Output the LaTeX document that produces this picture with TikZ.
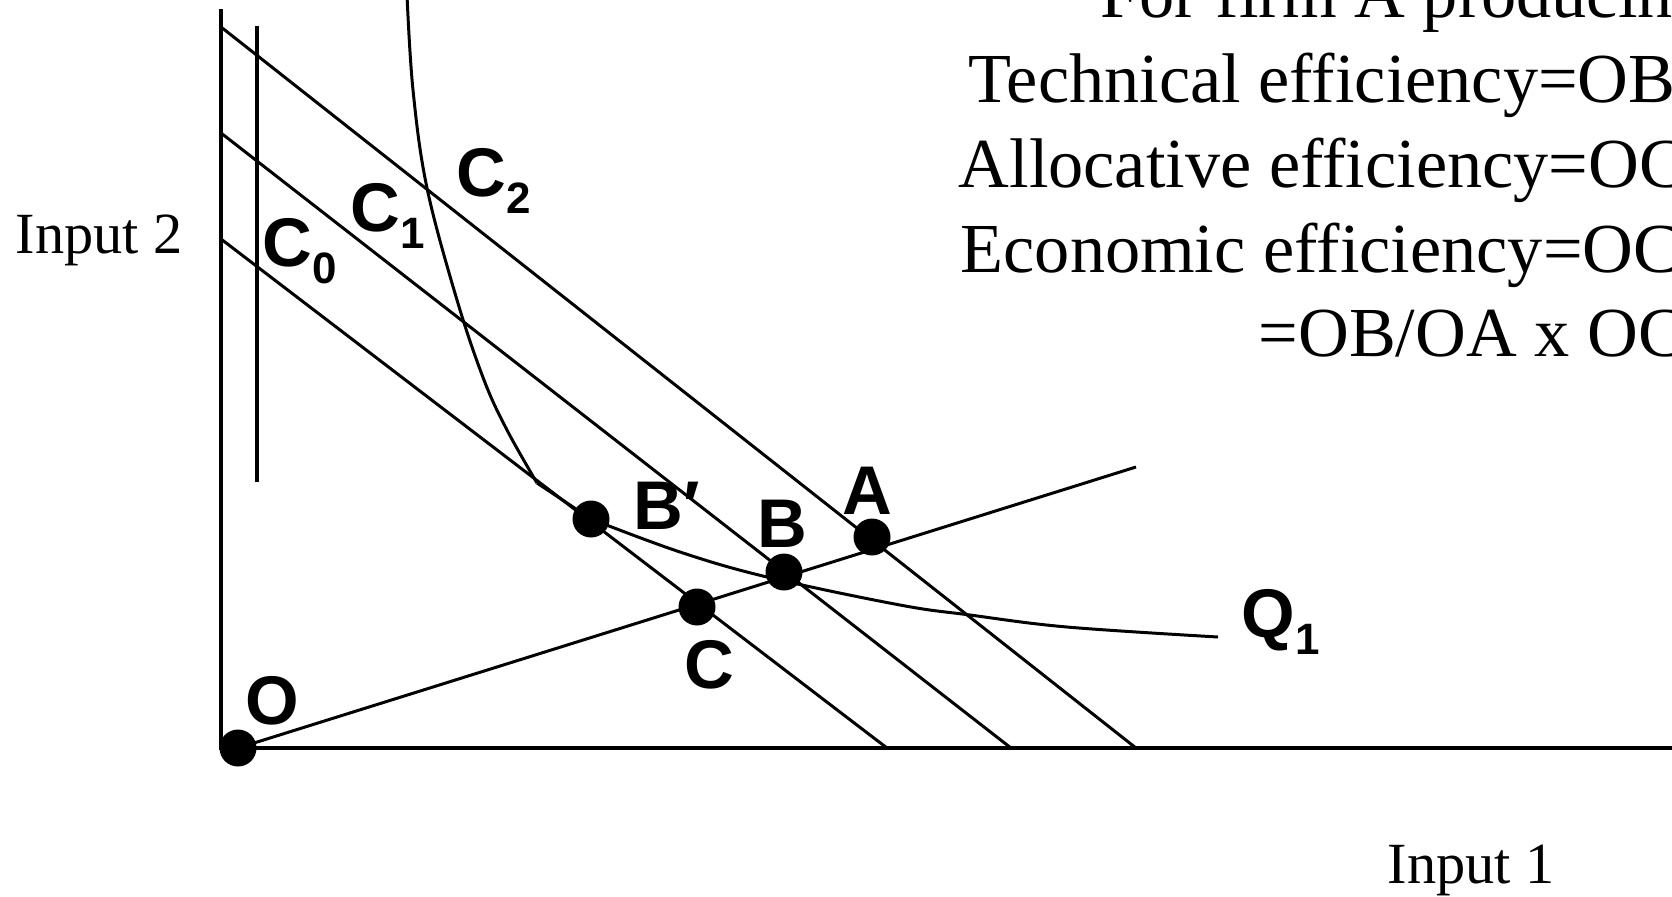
\documentclass[tikz,border=0pt]{standalone}
\usepackage{fontspec}
\setmainfont{Liberation Serif}
\setsansfont{Liberation Sans}
\usetikzlibrary{positioning}
\newcommand{\lowsub}[1]{\raisebox{-4.9pt}{\fontsize{12.5}{12.5}\selectfont #1}}

\begin{document}
\begin{tikzpicture}[
    x=0.1mm, y=-0.1mm,
    axisline/.style={line width=1.15pt},
    budget/.style={line width=0.85pt},
    iso/.style={line width=0.85pt, line join=round},
    dot/.style={circle, fill=black, inner sep=0pt, minimum size=3.7mm},
    lbl/.style={anchor=base west, inner sep=0pt, font=\fontsize{19.6}{20}\selectfont\sffamily\bfseries},
    txt/.style={anchor=base west, inner sep=0pt, font=\fontsize{20}{24}\selectfont},
    axlbl/.style={anchor=base west, inner sep=0pt, font=\fontsize{16.6}{20}\selectfont}
]
    \useasboundingbox (0,0) rectangle (1672,896);
    \clip (0,0) rectangle (1672,896);

    % axes
    \coordinate (ytop) at (221,9);
    \coordinate (orig) at (221,748);
    \coordinate (xend) at (1680,748);
    \draw [axisline] (ytop) -- (orig) -- (xend);
    \draw [axisline] (257,26) -- (257,482);

    % isocost lines
    \draw [budget] (221,27) -- (1136,748);
    \draw [budget] (221,133) -- (1011,748);
    \draw [budget] (221,239) -- (887,748);

    % points
    \node [dot] (O) at (238,748) {};
    \node [dot] (Bp) at (591,519) {};
    \node [dot] (B) at (784,572) {};
    \node [dot] (A) at (872,537) {};
    \node [dot] (C) at (697,607) {};

    % ray from the origin
    \coordinate (rayend) at (1136,467);
    \draw [budget] (O.center) -- (rayend);

    % isoquant Q1
    \coordinate (kink) at (537,483);
    \draw [iso] plot [smooth, tension=0.6] coordinates {(407,-5) (413,90) (427,188) (457,300) (484,380) (507,430) (537,483)};
    \draw [iso] (kink) -- (Bp.center);
    \draw [iso] plot [smooth, tension=0.6] coordinates {(591,519) (680,552) (767,577) (900,605) (970,615) (1067,627) (1218,637)};

    % labels
    \node [lbl] (lC2) at (456,196) {C\lowsub{2}};
    \node [lbl] (lC1) at (350,231) {C\lowsub{1}};
    \node [lbl] (lC0) at (262,266) {C\lowsub{0}};
    \node [lbl] (lBp) at (633,529) {B′};
    \node [lbl] (lB) at (757,547) {B};
    \node [lbl] (lA) at (842,514) {A};
    \node [lbl] (lC) at (684,688) {C};
    \node [lbl] (lO) at (245,724) {O};
    \node [lbl] (lQ) at (1241,637) {Q\lowsub{1}};

    \node [axlbl] (in2) at (15,253) {Input 2};
    \node [axlbl] (in1) at (1387,883) {Input 1};

    % efficiency text
    \node [txt] (t1) at (1100,17) {For firm A producin};
    \node [txt] (t2) at (968,102) {Technical efficiency=OB};
    \node [txt] (t3) at (958,187) {Allocative efficiency=OC};
    \node [txt] (t4) at (960,272) {Economic efficiency=OC};
    \node [txt] (t5) at (1258,356) {=OB/OA x OC};
\end{tikzpicture}
\end{document}
